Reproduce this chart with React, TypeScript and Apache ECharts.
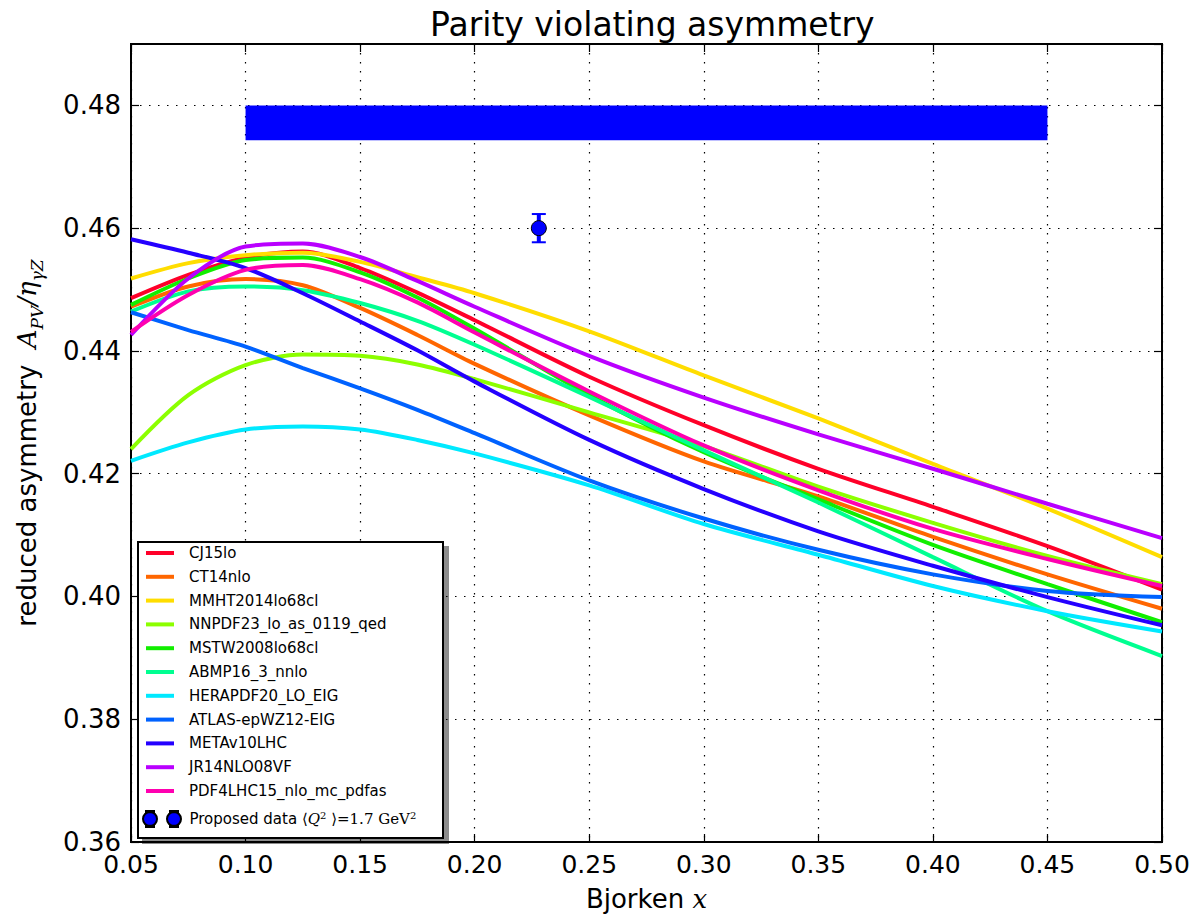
import React, { useEffect, useRef } from 'react';
import * as echarts from 'echarts';

// Bjorken x sample points
const xValues = [0.05, 0.075, 0.10, 0.125, 0.15, 0.175, 0.20, 0.25, 0.30, 0.35, 0.40, 0.45, 0.50];

const cj15lo = [0.4486, 0.4524, 0.4552, 0.4562, 0.4535, 0.4495, 0.4450, 0.4358, 0.4279, 0.4208, 0.4146, 0.4082, 0.4011];
const ct14nlo = [0.4472, 0.4505, 0.4517, 0.4507, 0.4470, 0.4426, 0.4379, 0.4295, 0.4220, 0.4163, 0.4097, 0.4036, 0.3980];
const mmht = [0.4518, 0.4543, 0.4556, 0.4560, 0.4545, 0.4520, 0.4494, 0.4432, 0.4360, 0.4290, 0.4216, 0.4143, 0.4064];
const nnpdf = [0.4240, 0.4328, 0.4377, 0.4394, 0.4392, 0.4378, 0.4354, 0.4300, 0.4245, 0.4179, 0.4120, 0.4066, 0.4020];
const mstw = [0.4475, 0.4518, 0.4548, 0.4552, 0.4528, 0.4487, 0.4436, 0.4328, 0.4235, 0.4158, 0.4084, 0.4020, 0.3958];
const abmp = [0.4464, 0.4497, 0.4505, 0.4499, 0.4478, 0.4449, 0.4410, 0.4325, 0.4238, 0.4153, 0.4064, 0.3976, 0.3903];
const hera = [0.4221, 0.4251, 0.4272, 0.4277, 0.4272, 0.4255, 0.4233, 0.4181, 0.4118, 0.4068, 0.4017, 0.3976, 0.3943];
const atlas = [0.4463, 0.4434, 0.4407, 0.4372, 0.4339, 0.4304, 0.4266, 0.4189, 0.4127, 0.4076, 0.4036, 0.4009, 0.3999];
const meta = [0.4582, 0.4560, 0.4535, 0.4494, 0.4448, 0.4401, 0.4350, 0.4255, 0.4175, 0.4106, 0.4050, 0.3999, 0.3953];
const jr14 = [0.4426, 0.4518, 0.4570, 0.4575, 0.4553, 0.4514, 0.4472, 0.4392, 0.4324, 0.4264, 0.4208, 0.4151, 0.4095];
const pdf4lhc = [0.4431, 0.4491, 0.4532, 0.4540, 0.4517, 0.4479, 0.4430, 0.4334, 0.4246, 0.4173, 0.4110, 0.4061, 0.4017];

const curveNames = [
  'CJ15lo', 'CT14nlo', 'MMHT2014lo68cl', 'NNPDF23_lo_as_0119_qed', 'MSTW2008lo68cl',
  'ABMP16_3_nnlo', 'HERAPDF20_LO_EIG', 'ATLAS-epWZ12-EIG', 'METAv10LHC', 'JR14NLO08VF', 'PDF4LHC15_nlo_mc_pdfas',
];
const curveValues = [cj15lo, ct14nlo, mmht, nnpdf, mstw, abmp, hera, atlas, meta, jr14, pdf4lhc];
const curveColors = [
  '#ff0029', '#ff6600', '#ffdd00', '#8cff00', '#11ee00',
  '#00ff91', '#00e9ff', '#0062ff', '#2400ff', '#b900ff', '#ff00b0',
];

// proposed data point: [x, y, error]
const dataPoint = [[0.228, 0.46, 0.0023]];
// projected precision band
const bandX = [0.10, 0.45];
const bandY = [0.4743, 0.48];

// axis ticks
const xMin = 0.05, xMax = 0.5, xStep = 0.05;
const yMin = 0.36, yMax = 0.49, yStep = 0.02;

const FONT = 'DejaVu Sans';
const SERIF = 'DejaVu Serif';

export default function App() {
  const ref = useRef<HTMLDivElement>(null);
  useEffect(() => {
    if (!ref.current) return;
    const chart = echarts.init(ref.current, null, { renderer: 'svg' });

    const lineSeries = curveNames.map((name, i) => ({
      name,
      type: 'line',
      data: xValues.map((x, j) => [x, curveValues[i][j]]),
      smooth: 0.3,
      symbol: 'none',
      lineStyle: { color: curveColors[i], width: 4 },
      itemStyle: { color: curveColors[i] },
      z: 3,
    }));

    const gridLine = { show: true, lineStyle: { color: '#000', type: [1.5, 7.5], width: 1.2 } };

    const option: any = {
      animation: false,
      backgroundColor: '#fff',
      title: {
        text: 'Parity violating asymmetry',
        left: 425,
        top: 3,
        textStyle: { fontFamily: FONT, fontSize: 33, fontWeight: 'normal', color: '#000' },
      },
      grid: { left: 131, right: 36, top: 44, bottom: 75, show: true, borderColor: '#000', borderWidth: 2, backgroundColor: 'transparent' },
      xAxis: [
        {
          type: 'value', min: xMin, max: xMax, interval: xStep, position: 'bottom',
          name: '{t|Bjorken }{m|x}', nameLocation: 'middle', nameGap: 44,
          nameTextStyle: {
            rich: {
              t: { fontFamily: FONT, fontSize: 26, color: '#000' },
              m: { fontFamily: SERIF, fontStyle: 'italic', fontSize: 26, color: '#000' },
            },
          },
          axisLine: { show: true, onZero: false, lineStyle: { color: '#000', width: 2 } },
          axisTick: { show: true, inside: true, length: 8, lineStyle: { color: '#000', width: 1.2 } },
          axisLabel: { fontFamily: FONT, fontSize: 25, color: '#000', margin: 10, formatter: (v: number) => v.toFixed(2) },
          splitLine: gridLine,
        },
        {
          type: 'value', min: xMin, max: xMax, interval: xStep, position: 'top',
          axisLine: { show: true, onZero: false, lineStyle: { color: '#000', width: 2 } },
          axisTick: { show: true, inside: true, length: 8, lineStyle: { color: '#000', width: 1.2 } },
          axisLabel: { show: false },
          splitLine: { show: false },
        },
      ],
      yAxis: [
        {
          type: 'value', min: yMin, max: yMax, interval: yStep, position: 'left',
          name: '{t|reduced asymmetry  }{m|A}{s|PV}{m|/η}{s|γZ}',
          nameLocation: 'middle', nameGap: 86,
          nameTextStyle: {
            rich: {
              t: { fontFamily: FONT, fontSize: 26, color: '#000', lineHeight: 36 },
              m: { fontFamily: SERIF, fontStyle: 'italic', fontSize: 26, color: '#000', lineHeight: 36 },
              s: { fontFamily: SERIF, fontStyle: 'italic', fontSize: 17, color: '#000', lineHeight: 17, verticalAlign: 'bottom' },
            },
          },
          axisLine: { show: true, onZero: false, lineStyle: { color: '#000', width: 2 } },
          axisTick: { show: true, inside: true, length: 8, lineStyle: { color: '#000', width: 1.2 } },
          axisLabel: { fontFamily: FONT, fontSize: 26, color: '#000', margin: 10, showMaxLabel: false, formatter: (v: number) => v.toFixed(2) },
          splitLine: gridLine,
        },
        {
          type: 'value', min: yMin, max: yMax, interval: yStep, position: 'right',
          axisLine: { show: true, onZero: false, lineStyle: { color: '#000', width: 2 } },
          axisTick: { show: true, inside: true, length: 8, lineStyle: { color: '#000', width: 1.2 } },
          axisLabel: { show: false },
          splitLine: { show: false },
        },
      ],
      graphic: [
        {
          type: 'rect', left: 137, top: 541, z: 50,
          shape: { width: 305, height: 296 },
          style: { fill: '#fff', stroke: '#000', lineWidth: 2, shadowColor: 'rgba(0,0,0,0.45)', shadowOffsetX: 5, shadowOffsetY: 5, shadowBlur: 0 },
        },
      ],
      legend: [
        {
          data: curveNames.map((n) => ({ name: n, icon: 'rect' })),
          orient: 'vertical', left: 146, top: 545, padding: 0,
          itemWidth: 28, itemHeight: 4, itemGap: 7.8,
          textStyle: { fontFamily: FONT, fontSize: 15, color: '#000', lineHeight: 16, padding: [0, 0, 0, 10] },
          selectedMode: false, z: 60,
        },
        {
          data: [{
            name: 'Proposed data',
            icon: 'path://M0.5,8a7,7 0 1,0 14,0a7,7 0 1,0 -14,0z M24.5,8a7,7 0 1,0 14,0a7,7 0 1,0 -14,0z M3.5,0h8v1.2h-8z M3.5,14.8h8v1.2h-8z M27.5,0h8v1.2h-8z M27.5,14.8h8v1.2h-8z',
          }],
          orient: 'vertical', left: 142, top: 810, padding: 0,
          itemWidth: 39, itemHeight: 16,
          textStyle: {
            fontFamily: FONT, fontSize: 15, color: '#000', lineHeight: 18, padding: [0, 0, 0, 3],
            rich: {
              a: { fontFamily: FONT, fontSize: 15, color: '#000', lineHeight: 18 },
              m: { fontFamily: SERIF, fontSize: 15, color: '#000', lineHeight: 18 },
              mi: { fontFamily: SERIF, fontStyle: 'italic', fontSize: 15, color: '#000', lineHeight: 18 },
              sup: { fontFamily: SERIF, fontSize: 10, color: '#000', lineHeight: 10, verticalAlign: 'top' },
            },
          },
          formatter: () => '{a|Proposed data }{m|⟨}{mi|Q}{sup|2}{m| ⟩=1.7 GeV}{sup|2}',
          selectedMode: false, z: 60,
        },
      ],
      series: [
        {
          name: 'band', type: 'custom', z: 2,
          renderItem: (params: any, api: any) => {
            const p0 = api.coord([api.value(0), api.value(3)]);
            const p1 = api.coord([api.value(1), api.value(2)]);
            return { type: 'rect', shape: { x: p0[0], y: p0[1], width: p1[0] - p0[0], height: p1[1] - p0[1] }, style: { fill: '#0000ff' } };
          },
          data: [[bandX[0], bandX[1], bandY[0], bandY[1]]],
          encode: { x: [0, 1], y: [2, 3] },
          silent: true,
        },
        ...lineSeries,
        {
          name: 'errorbar', type: 'custom', z: 5,
          renderItem: (params: any, api: any) => {
            const x = api.value(0), y = api.value(1), e = api.value(2);
            const top = api.coord([x, y + e]);
            const bot = api.coord([x, y - e]);
            const half = 7;
            const st = { stroke: '#0000ff', lineWidth: 4 };
            return {
              type: 'group',
              children: [
                { type: 'line', shape: { x1: top[0], y1: top[1], x2: bot[0], y2: bot[1] }, style: st },
                { type: 'line', shape: { x1: top[0] - half, y1: top[1], x2: top[0] + half, y2: top[1] }, style: { stroke: '#0000ff', lineWidth: 2 } },
                { type: 'line', shape: { x1: bot[0] - half, y1: bot[1], x2: bot[0] + half, y2: bot[1] }, style: { stroke: '#0000ff', lineWidth: 2 } },
              ],
            };
          },
          data: dataPoint,
          encode: { x: 0, y: 1 },
          silent: true,
        },
        {
          name: 'Proposed data', type: 'scatter', z: 6,
          data: dataPoint.map((d) => [d[0], d[1]]),
          symbol: 'circle', symbolSize: 15,
          itemStyle: { color: '#0000ff', borderColor: '#000', borderWidth: 1, opacity: 1 },
        },
      ],
    };

    chart.setOption(option);
    return () => chart.dispose();
  }, []);

  return <div ref={ref} style={{ position: 'absolute', left: 0, top: 0, width: 1198, height: 917 }} />;
}
